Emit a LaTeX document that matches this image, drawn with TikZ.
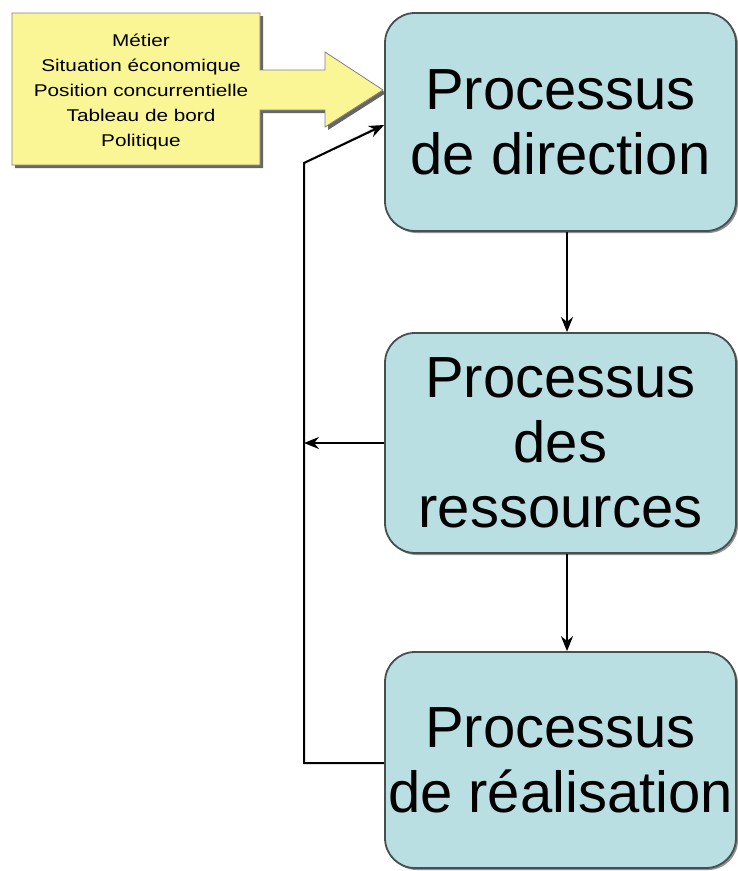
\documentclass[tikz,border=0pt]{standalone}
\usepackage{fontspec}
\setmainfont{Liberation Sans}
\newfontfamily\widefont[FakeStretch=1.22]{Liberation Sans}
\usetikzlibrary{arrows.meta,shadows}
\definecolor{boxblue}{RGB}{186,223,227}
\definecolor{callyellow}{RGB}{250,246,150}
\definecolor{edgegray}{RGB}{70,80,80}
\begin{document}
\begin{tikzpicture}[x=1pt,y=-1pt,
  proc/.style={draw=edgegray, line width=1.8pt, fill=boxblue, rounded corners=30pt,
    minimum width=351pt, align=center, inner sep=0pt,
    font=\fontsize{58}{65}\selectfont,
    drop shadow={shadow xshift=2pt, shadow yshift=-2pt, fill=black!55, opacity=0.8}},
  conn/.style={draw=black, line width=2pt, -{Stealth[length=15pt,width=12pt]}},
  connshadow/.style={draw=black!35, line width=1.8pt}
]
\useasboundingbox[fill=white] (0,0) rectangle (738,871);

% callout
\filldraw[fill=black!60, draw=none, shift={(3,3)}]
  (12,13) -- (260,13) -- (260,70) -- (325,70) -- (325,52) -- (383,90) -- (325,127)
  -- (325,110) -- (260,110) -- (260,165) -- (12,165) -- cycle;
\filldraw[fill=callyellow, draw=black!50, line width=0.8pt]
  (12,13) -- (260,13) -- (260,70) -- (325,70) -- (325,52) -- (383,90) -- (325,127)
  -- (325,110) -- (260,110) -- (260,165) -- (12,165) -- cycle;
\node[align=center, font=\widefont\fontsize{17}{25}\selectfont, inner sep=0pt] (ctext) at (141,92)
  {Métier\\Situation économique\\Position concurrentielle\\Tableau de bord\\Politique};

% process boxes
\node[proc, minimum height=218pt] (dir) at (560.5,122) {Processus\\de direction};
\node[proc, minimum height=220pt] (res) at (560.5,443) {Processus\\des\\ressources};
\node[proc, minimum height=216pt] (real) at (560.5,760) {Processus\\de réalisation};

\coordinate (fbA) at (304,763);
\coordinate (fbB) at (304,163);
\coordinate (fbC) at (304,443);

% shadow lines
\draw[connshadow, shift={(3.5,3.5)}] ([yshift=-3pt]real.west) -- (fbA) -- (fbB) -- ([xshift=-8pt,yshift=-6pt]dir.west);
\draw[connshadow, shift={(0,3.5)}] (res.west) -- ([xshift=12pt]fbC);
\draw[connshadow, shift={(3.5,0)}] ([xshift=6.5pt]dir.south) -- ([xshift=6.5pt,yshift=12pt]res.north);
\draw[connshadow, shift={(3.5,0)}] ([xshift=6.5pt]res.south) -- ([xshift=6.5pt,yshift=12pt]real.north);

% connectors
\draw[conn] ([xshift=6.5pt]dir.south) -- ([xshift=6.5pt]res.north);
\draw[conn] ([xshift=6.5pt]res.south) -- ([xshift=6.5pt]real.north);
\draw[conn] (res.west) -- (fbC);
\draw[conn] ([yshift=-3pt]real.west) -- (fbA) -- (fbB) -- ([yshift=-3pt]dir.west);
\end{tikzpicture}
\end{document}
